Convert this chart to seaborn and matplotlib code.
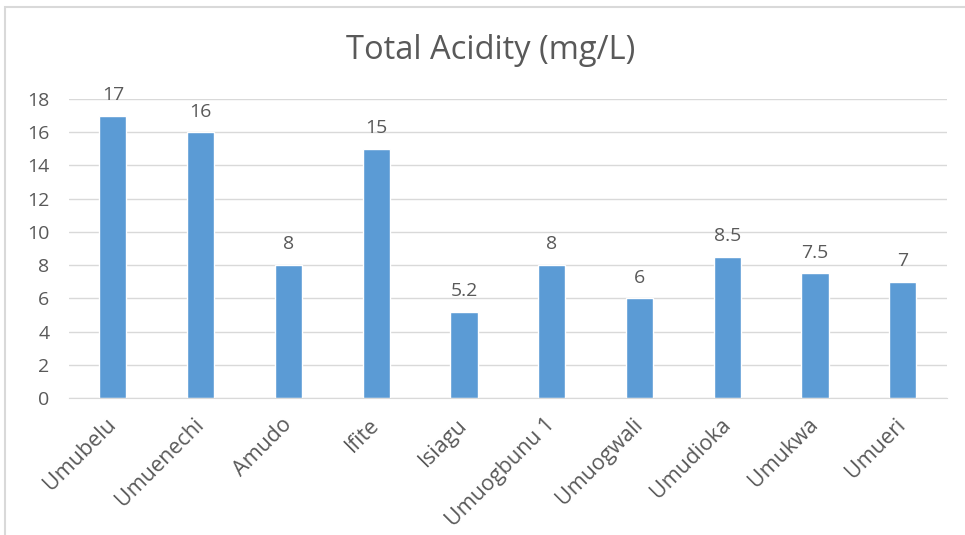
import matplotlib
matplotlib.use("Agg")
import matplotlib.pyplot as plt
import seaborn as sns
import pandas as pd
from matplotlib.patches import Rectangle

sites = ["Umubelu", "Umuenechi", "Amudo", "Ifite", "Isiagu", "Umuogbunu 1",
         "Umuogwali", "Umudioka", "Umukwa", "Umueri"]
acidity = [17, 16, 8, 15, 5.2, 8, 6, 8.5, 7.5, 7]
value_labels = ["17", "16", "8", "15", "5.2", "8", "6", "8.5", "7.5", "7"]

df = pd.DataFrame({"site": sites, "acidity": acidity})

sns.set_style("white")
plt.rcParams["font.family"] = ["Open Sans", "DejaVu Sans"]
grey = "#595959"

fig = plt.figure(figsize=(9.65, 5.35), dpi=100)
ax = fig.add_axes([0.0715, 0.256, 0.9095, 0.559])

sns.barplot(data=df, x="site", y="acidity", color="#5B9BD5", width=0.31,
            saturation=1, ax=ax)

for p, lab in zip(ax.patches, value_labels):
    ax.text(p.get_x() + p.get_width() / 2, p.get_height() + 0.7, lab,
            ha="center", va="bottom", fontsize=14, color=grey)

ax.set_ylim(0, 18)
ax.set_yticks(range(0, 19, 2))
ax.set_xlim(-0.5, len(sites) - 0.5)
ax.yaxis.grid(True, color="#D9D9D9", linewidth=1)
ax.set_axisbelow(True)
for s in ["top", "right", "left"]:
    ax.spines[s].set_visible(False)
ax.spines["bottom"].set_color("#D9D9D9")
ax.tick_params(axis="y", labelsize=14, labelcolor=grey, length=0, pad=14)
ax.tick_params(axis="x", labelsize=15.5, labelcolor=grey, length=0, pad=17)
plt.setp(ax.get_xticklabels(), rotation=45, ha="right", va="center",
         rotation_mode="anchor")
ax.set_xlabel("")
ax.set_ylabel("")

fig.text(0.508, 0.905, "Total Acidity (mg/L)", ha="center", va="center",
         fontsize=23.5, color=grey)

# chart area border (left and top visible)
fig.patches.append(Rectangle((0.005, -0.05), 1.1, 1.037, transform=fig.transFigure,
                             fill=False, edgecolor="#D9D9D9", linewidth=1.5))

fig.savefig("out.png", dpi=100)
